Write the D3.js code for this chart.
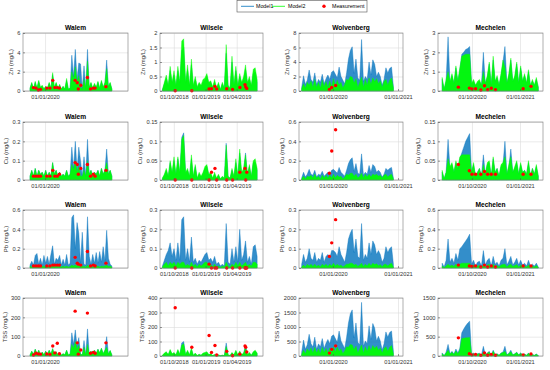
<!DOCTYPE html>
<html><head><meta charset="utf-8">
<script src="https://cdn.jsdelivr.net/npm/d3@7"></script>
<style>body{margin:0;background:#fff}svg{display:block}text{font-family:"Liberation Sans",Arial,sans-serif}</style>
</head><body><svg id="c" width="550" height="370"></svg>
<script>
// ---------- categories / axes ----------
const sites = ["Walem","Wilsele","Wolvenberg","Mechelen"];
const pollutants = ["Zn","Cu","Pb","TSS"];
const axisStart = ["2019-10-30","2018-08-22","2019-06-24","2020-07-28"];
const axisDays = [300,298,585,201];
const seriesSpan = [[20,254],[7,281],[15,531],[8,192]]; // day of first / last model sample
const xTickDates = [["2020-01-01"],["2018-10-01","2019-01-01","2019-04-01"],["2020-01-01","2021-01-01"],["2020-10-01","2021-01-01"]];
const yTicksZn = [[0,2,4,6],[0,0.5,1,1.5,2],[0,2,4,6,8],[0,1,2,3]];
const yTicksCu = [[0,0.1,0.2,0.3],[0,0.05,0.1,0.15],[0,0.2,0.4,0.6],[0,0.05,0.1,0.15]];
const yTicksPb = [[0,0.2,0.4,0.6],[0,0.1,0.2,0.3],[0,0.1,0.2,0.3],[0,0.2,0.4,0.6]];
const yTicksTSS = [[0,100,200,300],[0,100,200,300,400],[0,500,1000,1500,2000],[0,500,1000,1500]];

// ---------- measurement days (days after axis start) ----------
const walemDays = [30,37,44,50,68,77,85,91,98,104,149,155,158,165,184,193,201,206,237];
const wilseleDays = [44,92,142,149,159,164,193,210,231,246,248,251];
const wolvenbergDays = [171,184,206];
const mechelenDays = [39,60,65,72,82,89,95,102,110,163,178];

// ---------- Walem ----------
const walemZnM1 = [0.25,0.8,0.2,0.9,0.25,1.0,0.35,0.5,0.2,0.45,0.25,0.8,0.25,1.7,0.35,0.8,0.25,0.6,0.2,0.45,0.2,1.1,0.2,0.25,3.7,1.5,4.3,1.2,2.9,2.8,0.2,2.6,0.25,4.3,0.35,0.8,0.25,0.7,0.35,0.9,0.25,1.0,0.35,0.8,3.2,0.45,0.8,0.2];
const walemZnM2 = [0.3,0.9,0.2,1.0,0.3,1.1,0.4,0.6,0.2,0.5,0.3,0.9,0.3,1.9,0.4,0.9,0.3,0.7,0.2,0.5,0.2,1.3,0.2,0.3,2.0,1.2,2.5,0.9,1.6,0.3,0.2,1.2,0.3,3.1,0.4,0.9,0.3,0.8,0.4,1.0,0.3,1.1,0.4,0.9,2.3,0.5,0.9,0.2];
const walemZnMeas = [0.35,0.3,0.1,0.15,0.3,0.3,1.1,0.35,0.35,0.3,1.1,0.85,0.2,0.6,1.4,0.2,0.3,0.3,0.45];
const walemCuM1 = [0.02,0.05,0.02,0.06,0.02,0.05,0.03,0.04,0.02,0.05,0.02,0.04,0.02,0.09,0.03,0.05,0.02,0.04,0.02,0.03,0.02,0.05,0.02,0.03,0.17,0.06,0.20,0.05,0.17,0.10,0.02,0.12,0.02,0.21,0.03,0.05,0.02,0.04,0.03,0.05,0.02,0.06,0.03,0.05,0.16,0.03,0.05,0.02];
const walemCuM2 = [0.02,0.05,0.02,0.06,0.02,0.05,0.03,0.04,0.02,0.05,0.02,0.04,0.02,0.09,0.03,0.05,0.02,0.04,0.02,0.03,0.02,0.05,0.02,0.03,0.08,0.05,0.10,0.04,0.07,0.02,0.02,0.05,0.02,0.10,0.03,0.05,0.02,0.04,0.03,0.05,0.02,0.06,0.03,0.05,0.09,0.03,0.05,0.02];
const walemCuMeas = [0.02,0.02,0.02,0.02,0.02,0.02,0.05,0.02,0.02,0.03,0.09,0.08,0.03,0.06,0.08,0.02,0.03,0.02,0.05];
const walemPbM1 = [0.03,0.07,0.03,0.13,0.15,0.04,0.10,0.03,0.13,0.05,0.12,0.04,0.14,0.23,0.04,0.10,0.08,0.13,0.03,0.09,0.03,0.14,0.03,0.05,0.52,0.55,0.20,0.47,0.36,0.05,0.37,0.04,0.03,0.53,0.12,0.04,0.14,0.05,0.16,0.05,0.17,0.06,0.22,0.07,0.39,0.10,0.04,0.02];
const walemPbM2 = [0.02,0.01,0.02,0.015,0.02,0.01,0.02,0.015,0.02,0.01,0.02,0.015,0.02,0.03,0.01,0.02,0.015,0.02,0.01,0.02,0.01,0.02,0.01,0.015,0.03,0.02,0.03,0.02,0.025,0.01,0.02,0.015,0.01,0.03,0.015,0.02,0.01,0.02,0.015,0.02,0.01,0.02,0.015,0.02,0.03,0.015,0.02,0.01];
const walemPbMeas = [0.02,0.02,0.02,0.02,0.02,0.02,0.03,0.03,0.03,0.03,0.11,0.05,0.04,0.03,0.17,0.02,0.03,0.02,0.05];
const walemTSSM1 = [5,25,8,35,10,30,8,20,6,25,8,30,10,38,8,22,6,15,5,12,6,30,5,10,120,60,135,50,95,10,6,80,5,140,8,25,10,30,12,35,15,40,12,30,100,10,28,5];
const walemTSSM2 = [5,25,8,35,10,30,8,20,6,25,8,30,10,38,8,22,6,15,5,12,6,30,5,10,60,40,75,35,55,8,6,45,5,60,8,25,10,30,12,35,15,40,12,30,45,10,28,5];
const walemTSSMeas = [5,14,10,9,10,8,52,16,66,12,232,68,9,31,222,14,19,14,68];

// ---------- Wilsele ----------
const wilseleZnM1 = [0.04,0.25,0.45,0.15,0.7,0.25,0.55,0.15,0.7,0.25,1.4,1.5,0.25,0.7,0.15,0.9,0.15,0.4,0.1,0.25,0.15,0.3,0.35,0.5,0.25,0.3,0.1,0.3,0.08,0.25,0.04,0.25,0.08,1.3,0.15,0.08,1.0,0.15,0.7,0.15,0.5,0.25,0.4,0.75,0.25,0.4,0.15,0.6,0.65,0.3];
const wilseleZnM2 = [0.05,0.3,0.55,0.2,0.85,0.3,0.7,0.2,0.85,0.3,1.72,1.8,0.3,0.9,0.2,1.1,0.2,0.5,0.15,0.3,0.2,0.4,0.45,0.6,0.3,0.35,0.15,0.4,0.1,0.3,0.05,0.3,0.1,1.6,0.2,0.1,1.2,0.2,0.85,0.2,0.6,0.3,0.5,0.9,0.3,0.5,0.2,0.75,0.8,0.4];
const wilseleZnMeas = [0.01,0.01,0.07,0.08,0.16,0.07,0.08,0.05,0.12,0.22,0.14,0.09];
const wilseleCuM1 = [0.004,0.012,0.025,0.008,0.045,0.015,0.05,0.012,0.055,0.015,0.11,0.122,0.015,0.025,0.008,0.055,0.008,0.035,0.004,0.015,0.008,0.015,0.03,0.035,0.012,0.015,0.004,0.015,0.004,0.012,0.002,0.008,0.004,0.095,0.008,0.004,0.025,0.008,0.045,0.008,0.07,0.015,0.025,0.07,0.012,0.035,0.008,0.045,0.045,0.025];
const wilseleCuM2 = [0.005,0.015,0.03,0.01,0.05,0.02,0.06,0.015,0.06,0.02,0.105,0.115,0.02,0.03,0.01,0.065,0.01,0.04,0.005,0.02,0.01,0.02,0.035,0.04,0.015,0.02,0.005,0.02,0.005,0.015,0.003,0.01,0.005,0.09,0.01,0.005,0.03,0.01,0.055,0.01,0.08,0.02,0.03,0.065,0.015,0.04,0.01,0.05,0.055,0.03];
const wilseleCuMeas = [0.0,0.0,0.0,0.02,0.03,0.0,0.0,0.0,0.02,0.03,0.0,0.02];
const wilselePbM1 = [0.01,0.04,0.07,0.09,0.13,0.06,0.1,0.04,0.13,0.04,0.25,0.265,0.04,0.1,0.03,0.16,0.03,0.05,0.02,0.04,0.03,0.05,0.07,0.08,0.04,0.05,0.03,0.06,0.02,0.03,0.01,0.02,0.01,0.23,0.03,0.02,0.1,0.03,0.11,0.03,0.2,0.04,0.07,0.14,0.03,0.06,0.02,0.11,0.12,0.06];
const wilselePbM2 = [0.005,0.02,0.03,0.01,0.03,0.02,0.03,0.01,0.03,0.02,0.03,0.03,0.01,0.02,0.01,0.03,0.01,0.02,0.005,0.02,0.01,0.02,0.03,0.03,0.01,0.02,0.005,0.02,0.005,0.01,0.003,0.01,0.005,0.03,0.01,0.005,0.02,0.01,0.03,0.01,0.03,0.01,0.02,0.03,0.01,0.02,0.01,0.03,0.03,0.02];
const wilselePbMeas = [0.0,0.0,0.02,0.0,0.0,0.0,0.0,0.0,0.0,0.0,0.0,0.0];
const wilseleTSSM1 = [4,15,25,8,38,12,20,6,38,10,90,100,8,32,6,45,5,16,3,10,5,16,20,25,8,12,3,8,2,6,2,5,2,90,6,3,20,6,32,6,28,8,16,75,6,20,5,25,32,16];
const wilseleTSSM2 = [5,20,30,10,45,15,25,8,45,12,75,85,10,40,8,55,6,20,4,12,6,20,25,30,10,15,4,10,3,8,2,6,3,65,8,4,25,8,40,8,35,10,20,60,8,25,6,30,40,20];
const wilseleTSSMeas = [333,60,141,25,72,7,32,2,12,69,60,28];

// ---------- Wolvenberg ----------
const wolvenbergZnM1 = [0.5,2.1,0.9,1.5,2.9,1.6,1.2,2.5,0.9,1.6,1.2,2.3,1.0,1.7,2.2,1.6,2.6,2.8,2.3,1.8,3.3,2.0,1.5,1.0,2.5,4.4,5.6,6.1,2.4,4.4,1.8,1.5,7.1,1.3,2.0,1.6,4.0,2.2,4.3,3.7,2.0,2.6,2.0,0.8,1.6,3.2,2.5,3.1,3.3,0.6];
const wolvenbergZnM2 = [0.3,1.0,0.4,1.2,0.8,1.4,0.5,1.6,0.5,1.2,0.4,1.5,0.6,1.3,0.5,1.4,0.6,1.7,0.7,1.5,0.8,1.2,0.4,0.9,1.6,1.5,2.0,1.9,1.1,1.7,0.5,1.2,1.9,0.5,1.6,0.8,1.8,0.9,1.8,1.3,1.7,1.0,1.4,0.5,1.3,1.6,0.8,1.5,1.8,0.4];
const wolvenbergZnMeas = [0.2,0.5,0.75];
const wolvenbergCuM1 = [0.02,0.08,0.03,0.06,0.11,0.06,0.05,0.10,0.03,0.06,0.05,0.09,0.04,0.06,0.08,0.06,0.10,0.11,0.09,0.07,0.13,0.08,0.06,0.04,0.10,0.17,0.21,0.23,0.09,0.17,0.07,0.06,0.27,0.05,0.08,0.06,0.15,0.08,0.16,0.14,0.08,0.10,0.08,0.03,0.06,0.12,0.10,0.12,0.13,0.02];
const wolvenbergCuM2 = [0.01,0.04,0.01,0.04,0.03,0.05,0.02,0.06,0.02,0.04,0.01,0.05,0.02,0.05,0.02,0.05,0.02,0.06,0.02,0.05,0.03,0.04,0.01,0.03,0.06,0.05,0.07,0.07,0.04,0.06,0.02,0.04,0.07,0.02,0.06,0.03,0.06,0.03,0.06,0.05,0.06,0.04,0.05,0.02,0.05,0.06,0.03,0.05,0.06,0.01];
const wolvenbergCuMeas = [0.07,0.3,0.52];
const wolvenbergPbM1 = [0.02,0.07,0.03,0.05,0.10,0.05,0.04,0.08,0.03,0.05,0.04,0.08,0.03,0.06,0.07,0.05,0.09,0.09,0.08,0.06,0.11,0.07,0.05,0.03,0.08,0.15,0.18,0.20,0.08,0.15,0.06,0.05,0.23,0.04,0.07,0.05,0.13,0.07,0.14,0.12,0.07,0.09,0.07,0.03,0.05,0.11,0.08,0.10,0.11,0.02];
const wolvenbergPbM2 = [0.005,0.015,0.005,0.02,0.01,0.02,0.008,0.02,0.008,0.015,0.005,0.02,0.01,0.02,0.008,0.02,0.01,0.025,0.01,0.02,0.01,0.015,0.005,0.012,0.02,0.02,0.025,0.025,0.015,0.02,0.008,0.015,0.025,0.008,0.02,0.01,0.025,0.012,0.025,0.018,0.022,0.012,0.018,0.006,0.018,0.02,0.01,0.02,0.025,0.005];
const wolvenbergPbMeas = [0.06,0.13,0.25];
const wolvenbergTSSM1 = [130,550,230,390,750,420,310,650,230,420,310,600,260,440,570,420,680,730,600,470,860,520,390,260,650,1140,1460,1590,620,1140,470,390,1850,340,520,420,1040,570,1120,960,520,680,520,210,420,830,650,810,860,160];
const wolvenbergTSSM2 = [60,200,80,250,150,280,100,300,100,250,80,300,120,260,100,280,120,320,140,300,160,250,80,180,320,300,400,380,220,340,100,240,380,100,320,160,360,180,360,260,340,200,280,100,260,320,160,300,360,80];
const wolvenbergTSSMeas = [100,230,350];

// ---------- Mechelen ----------
const mechelenZnM1 = [0.6,0.1,0.5,2.8,0.4,0.8,0.4,1.2,0.5,1.1,1.9,2.0,2.15,2.2,2.3,0.3,0.5,0.3,0.4,0.5,0.3,2.0,0.4,0.7,1.4,0.3,1.6,0.5,0.7,0.3,0.8,1.5,2.3,0.4,0.8,1.6,0.5,0.7,1.4,0.4,1.2,0.5,0.8,0.4,1.0,0.3,0.5,0.3,0.6,0.2];
const mechelenZnM2 = [0.7,0.1,0.6,1.0,0.5,0.9,0.4,1.3,0.5,1.2,1.8,1.85,1.9,1.9,1.9,0.4,0.6,0.3,0.5,0.6,0.3,1.0,0.4,0.8,1.5,0.3,1.8,0.5,0.8,0.3,0.9,1.6,1.2,0.4,0.9,1.7,0.5,0.8,1.5,0.4,1.3,0.5,0.9,0.4,1.1,0.3,0.6,0.3,0.7,0.2];
const mechelenZnMeas = [0.2,0.15,0.1,0.12,0.05,0.27,0.07,0.14,0.07,0.12,0.24];
const mechelenCuM1 = [0.02,0.003,0.02,0.105,0.03,0.04,0.02,0.045,0.03,0.055,0.07,0.085,0.1,0.11,0.12,0.02,0.04,0.01,0.02,0.03,0.01,0.065,0.015,0.04,0.045,0.01,0.055,0.02,0.03,0.01,0.035,0.04,0.1,0.015,0.035,0.08,0.02,0.03,0.045,0.015,0.04,0.02,0.025,0.015,0.045,0.01,0.03,0.015,0.035,0.01];
const mechelenCuM2 = [0.025,0.003,0.02,0.055,0.035,0.045,0.02,0.05,0.03,0.06,0.065,0.065,0.065,0.065,0.065,0.02,0.045,0.01,0.02,0.03,0.01,0.04,0.015,0.045,0.05,0.01,0.06,0.02,0.03,0.01,0.04,0.045,0.06,0.015,0.04,0.06,0.02,0.035,0.05,0.015,0.045,0.02,0.025,0.015,0.05,0.01,0.03,0.015,0.04,0.01];
const mechelenCuMeas = [0.04,0.024,0.015,0.015,0.015,0.022,0.015,0.015,0.015,0.015,0.015];
const mechelenPbM1 = [0.05,0.01,0.08,0.3,0.06,0.1,0.05,0.15,0.08,0.2,0.22,0.25,0.28,0.31,0.35,0.04,0.08,0.02,0.06,0.07,0.02,0.18,0.03,0.08,0.1,0.02,0.12,0.04,0.06,0.02,0.08,0.1,0.2,0.03,0.07,0.12,0.03,0.06,0.1,0.03,0.08,0.03,0.05,0.02,0.08,0.02,0.04,0.02,0.05,0.01];
const mechelenPbM2 = [0.02,0.005,0.02,0.04,0.02,0.03,0.015,0.04,0.02,0.04,0.05,0.05,0.05,0.05,0.05,0.015,0.03,0.01,0.02,0.025,0.01,0.03,0.01,0.03,0.04,0.01,0.04,0.015,0.025,0.01,0.03,0.035,0.04,0.01,0.03,0.04,0.015,0.025,0.035,0.01,0.03,0.015,0.02,0.01,0.03,0.01,0.02,0.01,0.025,0.005];
const mechelenPbMeas = [0.03,0.02,0.015,0.02,0.01,0.03,0.01,0.02,0.01,0.02,0.02];
const mechelenTSSM1 = [80,10,100,300,60,120,50,180,80,200,600,700,780,850,900,40,80,20,60,70,20,250,30,80,120,20,150,40,60,20,80,100,250,30,70,150,30,60,100,30,80,30,50,20,80,20,40,20,50,10];
const mechelenTSSM2 = [60,5,80,150,50,100,40,130,60,150,450,460,470,470,480,30,60,15,50,60,15,100,25,70,100,15,120,35,50,15,70,90,120,25,60,110,25,50,90,25,70,25,45,15,70,15,35,15,45,8];
const mechelenTSSMeas = [470,60,30,40,20,80,20,40,20,30,50];

// ---------- lookup tables built from the arrays ----------
const yTicks = {Zn:yTicksZn, Cu:yTicksCu, Pb:yTicksPb, TSS:yTicksTSS};
const measDays = [walemDays, wilseleDays, wolvenbergDays, mechelenDays];
const table = {
  Walem:{Zn:[walemZnM1,walemZnM2,walemZnMeas],Cu:[walemCuM1,walemCuM2,walemCuMeas],Pb:[walemPbM1,walemPbM2,walemPbMeas],TSS:[walemTSSM1,walemTSSM2,walemTSSMeas]},
  Wilsele:{Zn:[wilseleZnM1,wilseleZnM2,wilseleZnMeas],Cu:[wilseleCuM1,wilseleCuM2,wilseleCuMeas],Pb:[wilselePbM1,wilselePbM2,wilselePbMeas],TSS:[wilseleTSSM1,wilseleTSSM2,wilseleTSSMeas]},
  Wolvenberg:{Zn:[wolvenbergZnM1,wolvenbergZnM2,wolvenbergZnMeas],Cu:[wolvenbergCuM1,wolvenbergCuM2,wolvenbergCuMeas],Pb:[wolvenbergPbM1,wolvenbergPbM2,wolvenbergPbMeas],TSS:[wolvenbergTSSM1,wolvenbergTSSM2,wolvenbergTSSMeas]},
  Mechelen:{Zn:[mechelenZnM1,mechelenZnM2,mechelenZnMeas],Cu:[mechelenCuM1,mechelenCuM2,mechelenCuMeas],Pb:[mechelenPbM1,mechelenPbM2,mechelenPbMeas],TSS:[mechelenTSSM1,mechelenTSSM2,mechelenTSSMeas]}
};

// ---------- drawing ----------
const BLUE = "#0072BD", GREEN = "#00FF00", RED = "#FF0000";
const svg = d3.select("#c");
const colL = [23,160,299,438], colW = [105,103,104,105];
const rowT = [33,122,210,298], rowH = 58;
const DAY = 864e5;
const fmt = d3.utcFormat("%d/%m/%Y");

sites.forEach((site, c) => {
  const t0 = new Date(axisStart[c] + "T00:00:00Z");
  const x = d3.scaleUtc().domain([t0, new Date(+t0 + axisDays[c]*DAY)]).range([colL[c], colL[c]+colW[c]]);
  const xt = xTickDates[c].map(s => new Date(s + "T00:00:00Z"));
  const [s0, s1] = seriesSpan[c];
  pollutants.forEach((p, r) => {
    const ticks = yTicks[p][c];
    const top = rowT[r], bot = rowT[r] + rowH, L = colL[c], R = colL[c] + colW[c];
    const y = d3.scaleLinear().domain([0, ticks[ticks.length-1]]).range([bot, top]);
    const [m1, m2, meas] = table[site][p];
    const g = svg.append("g");
    // grid
    g.append("g").attr("transform", `translate(0,${bot})`)
      .call(d3.axisBottom(x).tickValues(xt).tickSize(-(bot-top)).tickFormat(""))
      .call(a => a.select(".domain").remove())
      .selectAll("line").attr("stroke", "#dcdcdc").attr("stroke-width", 0.6);
    g.append("g").attr("transform", `translate(${L},0)`)
      .call(d3.axisLeft(y).tickValues(ticks).tickSize(-(R-L)).tickFormat(""))
      .call(a => a.select(".domain").remove())
      .selectAll("line").attr("stroke", "#dcdcdc").attr("stroke-width", 0.6);
    // model series
    const tx = (i, n) => x(new Date(+t0 + (s0 + (s1 - s0) * i / (n - 1)) * DAY));
    [[m1, BLUE, 0.8], [m2, GREEN, 0.92]].forEach(([vals, col, op]) => {
      const area = d3.area().x((d, i) => tx(i, vals.length)).y0(y(0)).y1(d => y(d));
      g.append("path").attr("d", area(vals)).attr("fill", col).attr("fill-opacity", op)
        .attr("stroke", col).attr("stroke-width", 0.4).attr("stroke-linejoin", "round");
    });
    // measurements
    g.selectAll("circle.m").data(meas).join("circle")
      .attr("cx", (d, i) => x(new Date(+t0 + measDays[c][i]*DAY)))
      .attr("cy", d => y(d)).attr("r", 1.7).attr("fill", RED);
    // box
    g.append("rect").attr("x", L).attr("y", top).attr("width", R-L).attr("height", bot-top)
      .attr("fill", "none").attr("stroke", "#7a7a7a").attr("stroke-width", 0.6);
    // axes (inward ticks)
    const ax = g.append("g").attr("transform", `translate(0,${bot})`)
      .call(d3.axisBottom(x).tickValues(xt).tickSize(-2).tickPadding(4).tickFormat(fmt));
    ax.select(".domain").remove();
    ax.selectAll("line").attr("stroke", "#555").attr("stroke-width", 0.6);
    ax.selectAll("text").attr("font-size", 5.7).attr("fill", "#333").attr("font-family", "Liberation Sans, Arial, sans-serif");
    const ay = g.append("g").attr("transform", `translate(${L},0)`)
      .call(d3.axisLeft(y).tickValues(ticks).tickSize(-2).tickPadding(2.5).tickFormat(d => String(d)));
    ay.select(".domain").remove();
    ay.selectAll("line").attr("stroke", "#555").attr("stroke-width", 0.6);
    ay.selectAll("text").attr("font-size", 5.7).attr("fill", "#333").attr("font-family", "Liberation Sans, Arial, sans-serif");
    const tw = d3.max(ay.selectAll("text").nodes(), n => n.getBBox().width);
    // title
    g.append("text").attr("x", (L+R)/2).attr("y", top - 3.5).attr("text-anchor", "middle")
      .attr("font-size", 6.6).attr("font-weight", "bold").attr("fill", "#000").text(site);
    // y label
    g.append("text").attr("transform", `translate(${L - 2.5 - tw - 4.5},${(top+bot)/2}) rotate(-90)`)
      .attr("text-anchor", "middle").attr("font-size", 6).attr("fill", "#333").text(`${p}  (mg/L)`);
  });
});

// legend
const lg = svg.append("g");
lg.append("rect").attr("x", 237).attr("y", 0.5).attr("width", 130).attr("height", 11.5)
  .attr("fill", "#fff").attr("stroke", "#555").attr("stroke-width", 0.6);
const legendItems = [["Model1", "line", BLUE, 241, 256], ["Model2", "line", GREEN, 272, 288], ["Measurement", "dot", RED, 324, 332]];
legendItems.forEach(([lab, kind, col, x0, tx0]) => {
  if (kind === "line") lg.append("line").attr("x1", x0).attr("x2", x0 + 13).attr("y1", 6.3).attr("y2", 6.3).attr("stroke", col).attr("stroke-width", 0.8);
  else lg.append("circle").attr("cx", x0).attr("cy", 6.3).attr("r", 1.7).attr("fill", col);
  lg.append("text").attr("x", tx0).attr("y", 8.2).attr("font-size", 5.3).attr("fill", "#000").text(lab);
});
</script></body></html>
